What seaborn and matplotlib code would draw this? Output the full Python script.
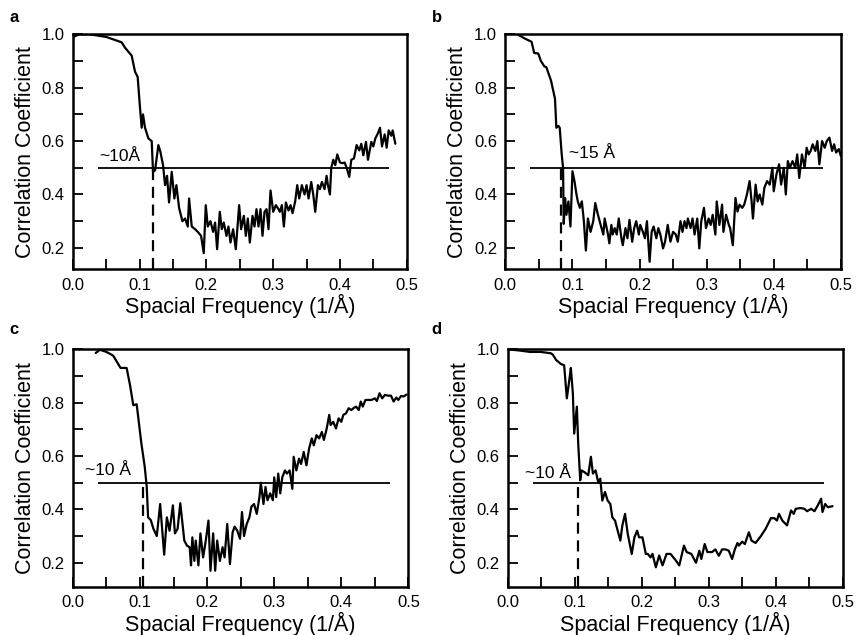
import numpy as np
import pandas as pd
import matplotlib.pyplot as plt
import seaborn as sns

# стиль
sns.set_style('ticks')
plt.rcParams['font.family'] = ['Liberation Sans', 'DejaVu Sans']
plt.rcParams['text.color'] = 'black'
plt.rcParams['axes.labelcolor'] = 'black'
plt.rcParams['axes.edgecolor'] = 'black'
plt.rcParams['xtick.color'] = 'black'
plt.rcParams['ytick.color'] = 'black'

# panel a
a_freq = [0.000, 0.010, 0.025, 0.050, 0.073, 0.078, 0.088, 0.093, 0.097, 0.100,
          0.103, 0.105, 0.108, 0.113, 0.118, 0.120, 0.123, 0.128, 0.131, 0.135,
          0.138, 0.141, 0.144, 0.148, 0.152, 0.155, 0.159, 0.164, 0.168, 0.172,
          0.174, 0.178, 0.183, 0.187, 0.192, 0.196, 0.199, 0.202, 0.206, 0.210,
          0.213, 0.216, 0.220, 0.223, 0.226, 0.230, 0.233, 0.236, 0.240, 0.244,
          0.249, 0.252, 0.256, 0.259, 0.262, 0.265, 0.269, 0.272, 0.275, 0.278,
          0.281, 0.284, 0.287, 0.290, 0.293, 0.296, 0.300, 0.304, 0.308, 0.310,
          0.313, 0.316, 0.319, 0.323, 0.326, 0.329, 0.333, 0.336, 0.339, 0.343,
          0.347, 0.350, 0.353, 0.357, 0.360, 0.363, 0.367, 0.370, 0.373, 0.377,
          0.380, 0.382, 0.385, 0.387, 0.390, 0.393, 0.396, 0.400, 0.404, 0.407,
          0.410, 0.414, 0.417, 0.421, 0.425, 0.429, 0.432, 0.435, 0.439, 0.442,
          0.447, 0.450, 0.453, 0.457, 0.460, 0.463, 0.467, 0.470, 0.473, 0.477,
          0.479, 0.483]
a_fsc = [0.99, 1.00, 1.00, 0.99, 0.97, 0.95, 0.92, 0.86, 0.84, 0.74,
         0.65, 0.70, 0.65, 0.61, 0.60, 0.485, 0.49, 0.585, 0.56, 0.51,
         0.435, 0.47, 0.37, 0.485, 0.385, 0.435, 0.35, 0.30, 0.31, 0.28,
         0.385, 0.28, 0.27, 0.26, 0.245, 0.18, 0.36, 0.28, 0.30, 0.26,
         0.295, 0.195, 0.335, 0.27, 0.295, 0.245, 0.28, 0.22, 0.27, 0.195,
         0.36, 0.27, 0.32, 0.245, 0.31, 0.22, 0.32, 0.28, 0.345, 0.28,
         0.345, 0.245, 0.335, 0.345, 0.27, 0.415, 0.335, 0.36, 0.345, 0.335,
         0.36, 0.28, 0.37, 0.34, 0.36, 0.33, 0.375, 0.435, 0.385, 0.435,
         0.40, 0.435, 0.385, 0.447, 0.40, 0.335, 0.435, 0.42, 0.447, 0.42,
         0.47, 0.435, 0.40, 0.50, 0.53, 0.51, 0.55, 0.52, 0.517, 0.52,
         0.50, 0.466, 0.53, 0.535, 0.585, 0.565, 0.59, 0.547, 0.597, 0.53,
         0.597, 0.58, 0.61, 0.63, 0.65, 0.58, 0.625, 0.575, 0.64, 0.62,
         0.64, 0.59]

# panel b
b_freq = [0.020, 0.029, 0.039, 0.043, 0.049, 0.053, 0.058, 0.061, 0.068, 0.074,
          0.076, 0.079, 0.081, 0.084, 0.086, 0.087, 0.089, 0.091, 0.094, 0.097,
          0.100, 0.103, 0.106, 0.108, 0.111, 0.114, 0.117, 0.120, 0.123, 0.127,
          0.131, 0.134, 0.138, 0.142, 0.146, 0.148, 0.150, 0.153, 0.155, 0.158,
          0.160, 0.163, 0.166, 0.169, 0.173, 0.175, 0.179, 0.182, 0.185, 0.189,
          0.192, 0.195, 0.199, 0.201, 0.205, 0.208, 0.211, 0.215, 0.218, 0.221,
          0.225, 0.228, 0.231, 0.235, 0.238, 0.242, 0.246, 0.250, 0.254, 0.257,
          0.261, 0.264, 0.267, 0.270, 0.272, 0.276, 0.279, 0.282, 0.286, 0.289,
          0.292, 0.296, 0.299, 0.303, 0.306, 0.309, 0.313, 0.315, 0.319, 0.323,
          0.325, 0.329, 0.333, 0.335, 0.339, 0.343, 0.346, 0.349, 0.353, 0.356,
          0.360, 0.364, 0.367, 0.369, 0.373, 0.376, 0.379, 0.383, 0.386, 0.390,
          0.394, 0.398, 0.400, 0.404, 0.408, 0.411, 0.415, 0.418, 0.421, 0.424,
          0.428, 0.432, 0.435, 0.438, 0.442, 0.446, 0.449, 0.452, 0.455, 0.458,
          0.462, 0.465, 0.468, 0.472, 0.476, 0.479, 0.483, 0.487, 0.490, 0.493,
          0.497, 0.500]
b_fsc = [0.997, 0.984, 0.972, 0.93, 0.928, 0.90, 0.88, 0.877, 0.827, 0.758,
         0.65, 0.657, 0.65, 0.55, 0.50, 0.29, 0.387, 0.324, 0.374, 0.28,
         0.487, 0.45, 0.40, 0.374, 0.35, 0.374, 0.30, 0.19, 0.31, 0.26,
         0.30, 0.368, 0.324, 0.286, 0.25, 0.31, 0.286, 0.25, 0.217, 0.286,
         0.25, 0.274, 0.25, 0.31, 0.236, 0.21, 0.274, 0.236, 0.305, 0.223,
         0.274, 0.30, 0.25, 0.286, 0.26, 0.236, 0.30, 0.148, 0.26, 0.28,
         0.236, 0.274, 0.25, 0.198, 0.223, 0.286, 0.223, 0.26, 0.25, 0.223,
         0.30, 0.26, 0.30, 0.274, 0.31, 0.274, 0.31, 0.25, 0.31, 0.198,
         0.30, 0.35, 0.274, 0.31, 0.286, 0.324, 0.25, 0.374, 0.286, 0.362,
         0.26, 0.324, 0.286, 0.274, 0.21, 0.387, 0.336, 0.362, 0.35, 0.362,
         0.40, 0.45, 0.374, 0.31, 0.437, 0.374, 0.40, 0.362, 0.425, 0.45,
         0.437, 0.50, 0.412, 0.475, 0.513, 0.437, 0.50, 0.40, 0.525, 0.50,
         0.525, 0.50, 0.55, 0.462, 0.55, 0.50, 0.575, 0.55, 0.563, 0.588,
         0.563, 0.60, 0.513, 0.60, 0.575, 0.60, 0.613, 0.563, 0.588, 0.557,
         0.57, 0.544]

# panel c
c_freq = [0.034, 0.040, 0.050, 0.060, 0.065, 0.071, 0.080, 0.085, 0.090, 0.095,
          0.102, 0.107, 0.110, 0.112, 0.116, 0.120, 0.125, 0.130, 0.136, 0.140,
          0.144, 0.149, 0.152, 0.156, 0.160, 0.166, 0.170, 0.174, 0.176, 0.178,
          0.181, 0.183, 0.187, 0.190, 0.194, 0.198, 0.202, 0.205, 0.209, 0.212,
          0.215, 0.219, 0.223, 0.226, 0.230, 0.234, 0.238, 0.241, 0.245, 0.249,
          0.252, 0.255, 0.259, 0.263, 0.266, 0.270, 0.274, 0.278, 0.280, 0.284,
          0.287, 0.290, 0.294, 0.298, 0.300, 0.303, 0.306, 0.309, 0.312, 0.316,
          0.319, 0.323, 0.327, 0.329, 0.333, 0.337, 0.340, 0.344, 0.348, 0.352,
          0.356, 0.359, 0.363, 0.367, 0.371, 0.374, 0.378, 0.382, 0.384, 0.388,
          0.392, 0.396, 0.400, 0.403, 0.407, 0.411, 0.415, 0.418, 0.422, 0.426,
          0.429, 0.432, 0.436, 0.440, 0.445, 0.450, 0.453, 0.457, 0.461, 0.465,
          0.470, 0.474, 0.478, 0.482, 0.485, 0.489, 0.493, 0.497]
c_fsc = [0.986, 0.998, 0.99, 0.976, 0.955, 0.93, 0.93, 0.867, 0.79, 0.794,
         0.647, 0.56, 0.484, 0.37, 0.36, 0.327, 0.30, 0.42, 0.23, 0.37,
         0.32, 0.415, 0.31, 0.327, 0.423, 0.283, 0.264, 0.258, 0.19, 0.295,
         0.207, 0.283, 0.19, 0.31, 0.22, 0.283, 0.358, 0.17, 0.31, 0.17,
         0.283, 0.207, 0.258, 0.22, 0.345, 0.195, 0.314, 0.335, 0.32, 0.29,
         0.39, 0.30, 0.345, 0.37, 0.41, 0.42, 0.383, 0.446, 0.50, 0.42,
         0.484, 0.434, 0.46, 0.434, 0.52, 0.446, 0.534, 0.46, 0.52, 0.546,
         0.534, 0.546, 0.477, 0.597, 0.546, 0.59, 0.57, 0.615, 0.565, 0.628,
         0.666, 0.64, 0.678, 0.666, 0.69, 0.66, 0.70, 0.754, 0.716, 0.728,
         0.703, 0.741, 0.728, 0.754, 0.76, 0.779, 0.772, 0.779, 0.785, 0.772,
         0.804, 0.785, 0.81, 0.81, 0.81, 0.816, 0.806, 0.835, 0.816, 0.829,
         0.826, 0.826, 0.804, 0.819, 0.81, 0.825, 0.823, 0.83]

# panel d
d_freq = [0.000, 0.018, 0.033, 0.049, 0.064, 0.067, 0.072, 0.079, 0.084, 0.088,
          0.092, 0.094, 0.097, 0.099, 0.103, 0.105, 0.108, 0.110, 0.114, 0.120,
          0.124, 0.127, 0.131, 0.135, 0.138, 0.141, 0.145, 0.149, 0.153, 0.156,
          0.160, 0.164, 0.168, 0.171, 0.175, 0.179, 0.185, 0.189, 0.193, 0.196,
          0.201, 0.206, 0.209, 0.213, 0.216, 0.221, 0.226, 0.231, 0.237, 0.243,
          0.251, 0.256, 0.263, 0.267, 0.274, 0.281, 0.286, 0.289, 0.294, 0.298,
          0.305, 0.310, 0.315, 0.320, 0.325, 0.330, 0.335, 0.339, 0.343, 0.345,
          0.350, 0.354, 0.360, 0.364, 0.370, 0.378, 0.385, 0.393, 0.398, 0.402,
          0.405, 0.410, 0.417, 0.423, 0.427, 0.430, 0.437, 0.443, 0.447, 0.453,
          0.458, 0.463, 0.468, 0.470, 0.474, 0.478, 0.485]
d_fsc = [1.0, 0.995, 0.99, 0.99, 0.985, 0.98, 0.96, 0.945, 0.94, 0.816,
         0.89, 0.93, 0.835, 0.684, 0.785, 0.647, 0.509, 0.546, 0.54, 0.528,
         0.597, 0.534, 0.546, 0.50, 0.515, 0.433, 0.465, 0.433, 0.42, 0.37,
         0.358, 0.32, 0.283, 0.34, 0.383, 0.308, 0.233, 0.295, 0.32, 0.295,
         0.295, 0.233, 0.233, 0.22, 0.233, 0.183, 0.227, 0.19, 0.233, 0.233,
         0.208, 0.19, 0.264, 0.24, 0.233, 0.20, 0.245, 0.214, 0.27, 0.24,
         0.24, 0.25, 0.226, 0.25, 0.25, 0.245, 0.214, 0.25, 0.274, 0.264,
         0.279, 0.27, 0.314, 0.283, 0.274, 0.30, 0.327, 0.367, 0.367, 0.358,
         0.383, 0.358, 0.34, 0.396, 0.383, 0.402, 0.405, 0.402, 0.393, 0.402,
         0.393, 0.415, 0.44, 0.39, 0.42, 0.408, 0.412]

panel_names = ['a', 'b', 'c', 'd']
cutoff = [0.12, 0.083, 0.105, 0.105]
res_labels = ['~10Å', '~15 Å', '~10 Å', '~10 Å']
res_label_xy = [(0.040, 0.525), (0.095, 0.535), (0.018, 0.53), (0.026, 0.518)]

freqs = [a_freq, b_freq, c_freq, d_freq]
fscs = [a_fsc, b_fsc, c_fsc, d_fsc]

# положение осей (доли фигуры)
positions = [[0.085, 0.576, 0.389, 0.370],
             [0.589, 0.576, 0.391, 0.370],
             [0.085, 0.076, 0.391, 0.374],
             [0.592, 0.076, 0.390, 0.374]]
ylows = [0.12, 0.12, 0.11, 0.11]
letter_xy = [(0.011, 0.985), (0.503, 0.985), (0.011, 0.493), (0.503, 0.493)]

fig = plt.figure(figsize=(8.58, 6.35), dpi=100)

for i in range(4):
    ax = fig.add_axes(positions[i])
    df = pd.DataFrame({'freq': freqs[i], 'fsc': fscs[i]})
    sns.lineplot(data=df, x='freq', y='fsc', ax=ax, color='black', lw=1.6,
                 estimator=None, sort=False)

    # линия 0.5 и отсечка разрешения
    ax.hlines(0.5, 0.037, 0.473, color='black', lw=1.3)
    ax.vlines(cutoff[i], ylows[i], 0.5, colors='black', lw=1.6,
              linestyles=(0, (5, 3)))
    ax.text(res_label_xy[i][0], res_label_xy[i][1], res_labels[i], fontsize=12.5,
            ha='left', va='baseline')

    ax.set_xlim(0, 0.5)
    ax.set_ylim(ylows[i], 1.0)
    ax.set_xticks([0.0, 0.1, 0.2, 0.3, 0.4, 0.5])
    ax.set_xticks([0.05, 0.15, 0.25, 0.35, 0.45, cutoff[i]], minor=True)
    ax.set_yticks([0.2, 0.4, 0.6, 0.8, 1.0])
    ax.set_yticks([0.3, 0.5, 0.7, 0.9], minor=True)
    ax.xaxis.set_major_formatter('{x:.1f}')
    ax.yaxis.set_major_formatter('{x:.1f}')
    ax.tick_params(which='both', direction='in', length=7, width=1.3,
                   top=False, right=False, labelsize=12)
    ax.tick_params(axis='x', pad=6)
    ax.tick_params(axis='y', pad=6)
    for sp in ax.spines.values():
        sp.set_linewidth(1.8)

    ax.set_xlabel('Spacial Frequency (1/Å)', fontsize=15.5, labelpad=1)
    ax.set_ylabel('Correlation Coefficient', fontsize=15.5, labelpad=4)

    fig.text(letter_xy[i][0], letter_xy[i][1], panel_names[i], fontsize=12,
             weight='bold', va='top', ha='left')

plt.savefig('out.png', dpi=100)
plt.close()
